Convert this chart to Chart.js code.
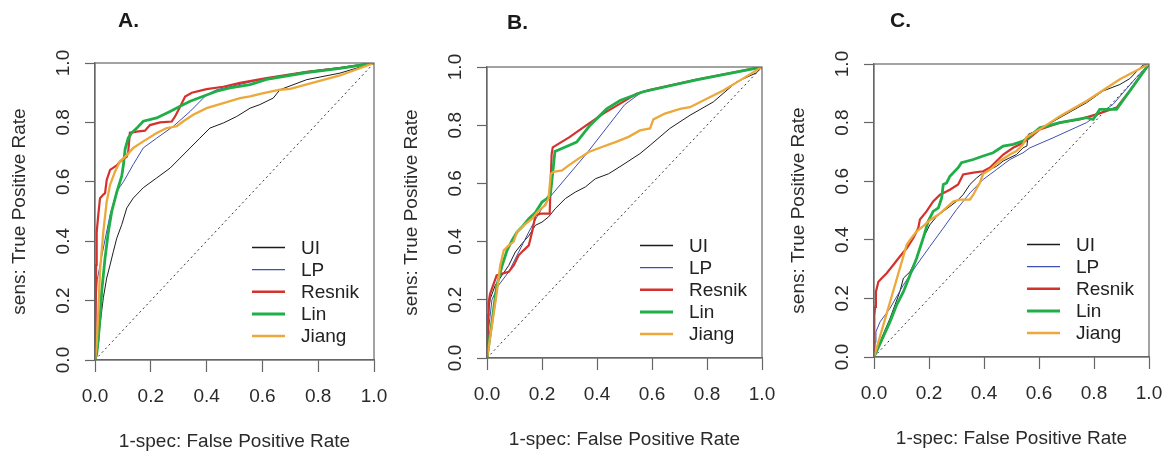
<!DOCTYPE html>
<html>
<head>
<meta charset="utf-8">
<title>ROC curves</title>
<script src="https://cdn.jsdelivr.net/npm/chart.js@4.4.0/dist/chart.umd.min.js"></script>
<style>
  body { margin: 0; background: #fff; }
  #wrap { position: relative; width: 1168px; height: 453px; }
  #wrap canvas { position: absolute; top: 0; }
</style>
</head>
<body>
<div id="wrap">
  <canvas id="cA" width="390" height="453" style="left:0px"></canvas>
  <canvas id="cB" width="390" height="453" style="left:390px"></canvas>
  <canvas id="cC" width="388" height="453" style="left:780px"></canvas>
</div>
<script>
var methods = ['UI', 'LP', 'Resnik', 'Lin', 'Jiang'];
var panelTitles = ['A.', 'B.', 'C.'];
var xTitle = '1-spec: False Positive Rate';
var yTitle = 'sens: True Positive Rate';
var tickLabels = ['0.0', '0.2', '0.4', '0.6', '0.8', '1.0'];

// ---- panel A ----
var A_UI_fpr = [0, 0.006, 0.012, 0.018, 0.030, 0.042, 0.054, 0.066, 0.078, 0.096, 0.114, 0.137, 0.173, 0.221, 0.269, 0.305, 0.341, 0.376, 0.412, 0.460, 0.508, 0.556, 0.591, 0.639, 0.663, 0.759, 0.878, 1];
var A_UI_tpr = [0, 0.02, 0.05, 0.12, 0.21, 0.276, 0.32, 0.366, 0.41, 0.456, 0.512, 0.545, 0.58, 0.613, 0.646, 0.68, 0.714, 0.747, 0.781, 0.798, 0.82, 0.848, 0.86, 0.882, 0.91, 0.944, 0.966, 1];
var A_LP_fpr = [0, 0.004, 0.008, 0.030, 0.054, 0.078, 0.102, 0.137, 0.173, 0.221, 0.281, 0.341, 0.400, 0.436, 0.52, 0.615, 0.759, 0.878, 1];
var A_LP_tpr = [0, 0.2, 0.27, 0.377, 0.489, 0.568, 0.60, 0.658, 0.714, 0.747, 0.787, 0.837, 0.893, 0.91, 0.928, 0.949, 0.971, 0.985, 1];
var A_Resnik_fpr = [0, 0.002, 0.004, 0.006, 0.012, 0.018, 0.030, 0.036, 0.042, 0.054, 0.078, 0.090, 0.114, 0.119, 0.125, 0.149, 0.179, 0.197, 0.233, 0.275, 0.287, 0.305, 0.323, 0.347, 0.400, 0.460, 0.52, 0.615, 0.759, 0.878, 1];
var A_Resnik_tpr = [0, 0.15, 0.32, 0.43, 0.49, 0.545, 0.557, 0.562, 0.606, 0.64, 0.655, 0.668, 0.685, 0.70, 0.765, 0.769, 0.772, 0.791, 0.80, 0.803, 0.82, 0.853, 0.887, 0.90, 0.912, 0.92, 0.933, 0.949, 0.97, 0.983, 1];
var A_Lin_fpr = [0, 0.006, 0.012, 0.018, 0.024, 0.036, 0.048, 0.060, 0.078, 0.096, 0.102, 0.108, 0.119, 0.131, 0.149, 0.173, 0.221, 0.269, 0.305, 0.341, 0.388, 0.436, 0.484, 0.556, 0.615, 0.759, 0.878, 1];
var A_Lin_tpr = [0, 0.02, 0.074, 0.141, 0.23, 0.343, 0.433, 0.50, 0.565, 0.62, 0.658, 0.71, 0.747, 0.764, 0.78, 0.804, 0.815, 0.837, 0.854, 0.871, 0.888, 0.905, 0.916, 0.927, 0.945, 0.968, 0.982, 1];
var A_Jiang_fpr = [0, 0.006, 0.012, 0.018, 0.030, 0.042, 0.054, 0.072, 0.090, 0.114, 0.137, 0.173, 0.221, 0.257, 0.293, 0.317, 0.352, 0.400, 0.460, 0.52, 0.556, 0.60, 0.663, 0.70, 0.759, 0.878, 1];
var A_Jiang_tpr = [0, 0.05, 0.164, 0.30, 0.433, 0.534, 0.59, 0.635, 0.669, 0.69, 0.714, 0.736, 0.764, 0.781, 0.787, 0.804, 0.826, 0.848, 0.865, 0.882, 0.888, 0.898, 0.91, 0.913, 0.928, 0.958, 1];

// ---- panel B ----
var B_UI_fpr = [0, 0.004, 0.012, 0.030, 0.055, 0.079, 0.103, 0.127, 0.152, 0.176, 0.200, 0.224, 0.248, 0.285, 0.321, 0.358, 0.394, 0.442, 0.491, 0.520, 0.556, 0.593, 0.665, 0.738, 0.823, 0.908, 0.980, 1];
var B_UI_tpr = [0, 0.147, 0.204, 0.25, 0.285, 0.318, 0.364, 0.393, 0.42, 0.456, 0.467, 0.485, 0.513, 0.548, 0.57, 0.588, 0.616, 0.633, 0.662, 0.68, 0.702, 0.731, 0.789, 0.834, 0.88, 0.949, 0.98, 1];
var B_LP_fpr = [0, 0.006, 0.018, 0.042, 0.079, 0.115, 0.152, 0.188, 0.224, 0.36, 0.50, 0.56, 0.762, 1];
var B_LP_tpr = [0, 0.1, 0.2, 0.25, 0.296, 0.364, 0.433, 0.496, 0.548, 0.70, 0.87, 0.912, 0.955, 1];
var B_Resnik_fpr = [0, 0.004, 0.006, 0.011, 0.018, 0.035, 0.055, 0.079, 0.097, 0.115, 0.133, 0.152, 0.164, 0.176, 0.194, 0.228, 0.235, 0.239, 0.300, 0.362, 0.423, 0.484, 0.544, 0.593, 0.762, 1];
var B_Resnik_tpr = [0, 0.147, 0.19, 0.22, 0.238, 0.284, 0.29, 0.296, 0.318, 0.353, 0.37, 0.387, 0.433, 0.49, 0.496, 0.496, 0.70, 0.724, 0.759, 0.80, 0.84, 0.874, 0.908, 0.922, 0.957, 1];
var B_Lin_fpr = [0, 0.036, 0.055, 0.073, 0.091, 0.109, 0.127, 0.152, 0.176, 0.200, 0.218, 0.230, 0.235, 0.247, 0.285, 0.326, 0.375, 0.435, 0.484, 0.568, 0.762, 1];
var B_Lin_tpr = [0, 0.25, 0.318, 0.37, 0.404, 0.433, 0.45, 0.479, 0.50, 0.536, 0.548, 0.56, 0.60, 0.71, 0.725, 0.742, 0.80, 0.856, 0.885, 0.915, 0.956, 1];
var B_Jiang_fpr = [0, 0.018, 0.036, 0.048, 0.061, 0.079, 0.097, 0.109, 0.139, 0.164, 0.188, 0.212, 0.224, 0.232, 0.242, 0.273, 0.297, 0.333, 0.370, 0.418, 0.467, 0.515, 0.556, 0.593, 0.605, 0.647, 0.702, 0.738, 0.799, 0.859, 0.920, 1];
var B_Jiang_tpr = [0, 0.112, 0.227, 0.318, 0.37, 0.387, 0.40, 0.433, 0.46, 0.479, 0.507, 0.525, 0.55, 0.633, 0.64, 0.645, 0.662, 0.685, 0.708, 0.725, 0.742, 0.76, 0.782, 0.789, 0.82, 0.84, 0.856, 0.862, 0.891, 0.919, 0.954, 1];

// ---- panel C ----
var C_UI_fpr = [0, 0.03, 0.058, 0.094, 0.107, 0.131, 0.155, 0.179, 0.203, 0.228, 0.252, 0.276, 0.300, 0.324, 0.349, 0.373, 0.397, 0.421, 0.446, 0.470, 0.494, 0.518, 0.542, 0.556, 0.561, 0.603, 0.676, 0.773, 0.833, 0.894, 0.930, 0.976, 1];
var C_UI_tpr = [0, 0.07, 0.131, 0.223, 0.269, 0.291, 0.337, 0.406, 0.451, 0.48, 0.497, 0.514, 0.531, 0.554, 0.589, 0.611, 0.629, 0.64, 0.651, 0.669, 0.68, 0.691, 0.714, 0.72, 0.76, 0.777, 0.817, 0.868, 0.908, 0.93, 0.95, 0.995, 1];
var C_LP_fpr = [0, 0.004, 0.007, 0.022, 0.058, 0.107, 0.155, 0.203, 0.252, 0.300, 0.349, 0.397, 0.446, 0.494, 0.542, 0.567, 0.651, 0.773, 0.869, 0.954, 1];
var C_LP_tpr = [0, 0.05, 0.086, 0.12, 0.166, 0.246, 0.314, 0.377, 0.44, 0.503, 0.56, 0.606, 0.64, 0.674, 0.697, 0.714, 0.748, 0.80, 0.862, 0.954, 1];
var C_Resnik_fpr = [0, 0.001, 0.004, 0.007, 0.016, 0.028, 0.046, 0.070, 0.094, 0.119, 0.143, 0.161, 0.167, 0.191, 0.215, 0.240, 0.276, 0.306, 0.324, 0.361, 0.397, 0.421, 0.446, 0.470, 0.506, 0.542, 0.567, 0.603, 0.676, 0.748, 0.809, 0.882, 0.930, 1];
var C_Resnik_tpr = [0, 0.14, 0.171, 0.223, 0.257, 0.269, 0.286, 0.314, 0.343, 0.371, 0.406, 0.44, 0.469, 0.497, 0.531, 0.554, 0.571, 0.589, 0.623, 0.629, 0.634, 0.646, 0.669, 0.691, 0.714, 0.731, 0.749, 0.777, 0.80, 0.811, 0.828, 0.851, 0.908, 1];
var C_Lin_fpr = [0, 0.058, 0.082, 0.107, 0.131, 0.155, 0.179, 0.197, 0.215, 0.234, 0.246, 0.252, 0.264, 0.276, 0.306, 0.318, 0.361, 0.397, 0.433, 0.470, 0.506, 0.542, 0.567, 0.603, 0.676, 0.773, 0.797, 0.821, 0.882, 0.930, 1];
var C_Lin_tpr = [0, 0.12, 0.177, 0.223, 0.28, 0.337, 0.406, 0.463, 0.497, 0.509, 0.543, 0.589, 0.594, 0.617, 0.646, 0.663, 0.674, 0.686, 0.697, 0.72, 0.726, 0.737, 0.754, 0.782, 0.80, 0.817, 0.811, 0.845, 0.845, 0.908, 1];
var C_Jiang_fpr = [0, 0.119, 0.131, 0.155, 0.179, 0.203, 0.240, 0.288, 0.312, 0.349, 0.361, 0.373, 0.385, 0.397, 0.421, 0.458, 0.494, 0.518, 0.542, 0.554, 0.603, 0.676, 0.773, 0.894, 1];
var C_Jiang_tpr = [0, 0.383, 0.40, 0.429, 0.447, 0.467, 0.49, 0.531, 0.537, 0.537, 0.554, 0.575, 0.594, 0.625, 0.639, 0.669, 0.691, 0.703, 0.726, 0.75, 0.777, 0.822, 0.874, 0.948, 1];

// styles
var lineColors = ['#1c1c1c', '#3d4fb0', '#d3322d', '#1fae48', '#eca83a'];
var lineWidths = [1, 1, 2.2, 2.8, 2.3];
var legendWidths = [1.5, 1.2, 2.5, 3, 2.6];
var axisColor = '#666';
var fontFam = '"Liberation Sans", Arial, sans-serif';

Chart.defaults.font.family = fontFam;
Chart.defaults.font.size = 19;
Chart.defaults.color = '#2a2a2a';

// where each panel's plot box sits inside its own canvas
var layouts = [
  { w: 390, box: [95, 63, 374, 360], title: [118, 21] },
  { w: 390, box: [97, 67, 372, 358], title: [117, 23] },
  { w: 388, box: [94, 64, 369, 357], title: [110, 21] }
];

// box round the plot, panel letter and legend
var decor = {
  id: 'decor',
  afterDraw: function (chart, args, o) {
    var ctx = chart.ctx, ca = chart.chartArea;
    ctx.save();
    ctx.strokeStyle = axisColor;
    ctx.lineWidth = 1.2;
    ctx.strokeRect(ca.left, ca.top, ca.right - ca.left, ca.bottom - ca.top);

    ctx.fillStyle = '#1a1a1a';
    ctx.font = 'bold 21px ' + fontFam;
    ctx.textAlign = 'left';
    ctx.textBaseline = 'middle';
    ctx.fillText(o.title, o.tx, o.ty);

    ctx.font = '19px ' + fontFam;
    for (var i = 0; i < methods.length; i++) {
      var y = ca.bottom - 24 - (methods.length - 1 - i) * 22.1;
      ctx.strokeStyle = lineColors[i];
      ctx.lineWidth = legendWidths[i];
      ctx.beginPath();
      ctx.moveTo(ca.right - 122, y);
      ctx.lineTo(ca.right - 89, y);
      ctx.stroke();
      ctx.fillStyle = '#222';
      ctx.fillText(methods[i], ca.right - 73, y + 1);
    }
    ctx.restore();
  }
};

function pts(fpr, tpr) {
  return fpr.map(function (x, j) { return { x: x, y: tpr[j] }; });
}

function makeChart(id, idx, curves) {
  var L = layouts[idx];
  var datasets = [{
    data: [{ x: 0, y: 0 }, { x: 1, y: 1 }],
    borderColor: '#333', borderWidth: 1, borderDash: [2, 3], order: 10
  }];
  for (var i = 0; i < curves.length; i++) {
    datasets.push({
      label: methods[i],
      data: pts(curves[i][0], curves[i][1]),
      borderColor: lineColors[i],
      borderWidth: lineWidths[i],
      order: 5 - i
    });
  }

  new Chart(document.getElementById(id), {
    type: 'scatter',
    data: { datasets: datasets },
    options: {
      responsive: false,
      animation: false,
      showLine: true,
      elements: { point: { radius: 0 }, line: { tension: 0, fill: false } },
      layout: {
        padding: { left: L.box[0] - 90, top: L.box[1], right: L.w - L.box[2], bottom: 453 - L.box[3] - 93 }
      },
      plugins: {
        legend: { display: false },
        tooltip: { enabled: false },
        decor: { title: panelTitles[idx], tx: L.title[0], ty: L.title[1] }
      },
      scales: {
        x: {
          type: 'linear', position: 'bottom', min: 0, max: 1,
          afterFit: function (s) { s.height = 93; s.paddingLeft = 0; s.paddingRight = 0; },
          ticks: {
            stepSize: 0.2, autoSkip: false, padding: 13, maxRotation: 0,
            callback: function (v, i) { return tickLabels[i]; }
          },
          grid: { drawOnChartArea: false, tickLength: 12, tickColor: axisColor, tickWidth: 1.2 },
          border: { color: axisColor, width: 1.2 },
          title: { display: true, text: xTitle, padding: 0 }
        },
        y: {
          type: 'linear', position: 'left', min: 0, max: 1,
          afterFit: function (s) { s.width = 90; s.paddingTop = 0; s.paddingBottom = 0; },
          ticks: {
            stepSize: 0.2, autoSkip: false, padding: 8,
            minRotation: 90, maxRotation: 90, crossAlign: 'center',
            callback: function (v, i) { return tickLabels[i]; }
          },
          grid: { drawOnChartArea: false, tickLength: 10, tickColor: axisColor, tickWidth: 1.2 },
          border: { color: axisColor, width: 1.2 },
          title: { display: true, text: yTitle, padding: { top: 3.6, bottom: 0 } }
        }
      }
    },
    plugins: [decor]
  });
}

makeChart('cA', 0, [[A_UI_fpr, A_UI_tpr], [A_LP_fpr, A_LP_tpr], [A_Resnik_fpr, A_Resnik_tpr], [A_Lin_fpr, A_Lin_tpr], [A_Jiang_fpr, A_Jiang_tpr]]);
makeChart('cB', 1, [[B_UI_fpr, B_UI_tpr], [B_LP_fpr, B_LP_tpr], [B_Resnik_fpr, B_Resnik_tpr], [B_Lin_fpr, B_Lin_tpr], [B_Jiang_fpr, B_Jiang_tpr]]);
makeChart('cC', 2, [[C_UI_fpr, C_UI_tpr], [C_LP_fpr, C_LP_tpr], [C_Resnik_fpr, C_Resnik_tpr], [C_Lin_fpr, C_Lin_tpr], [C_Jiang_fpr, C_Jiang_tpr]]);
</script>
</body>
</html>
